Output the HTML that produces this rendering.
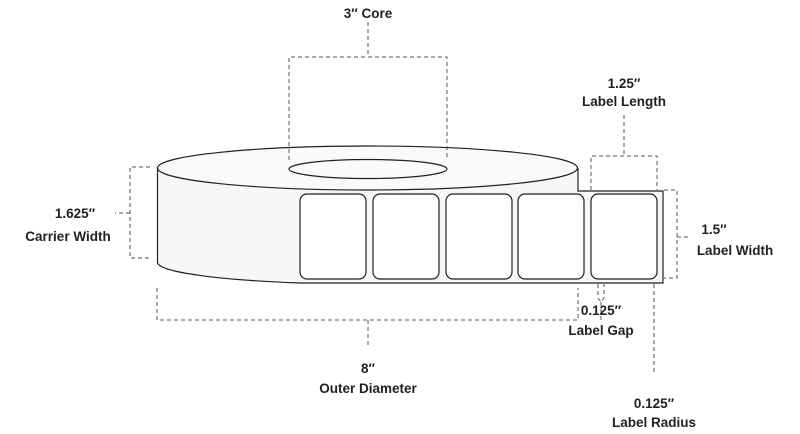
<!DOCTYPE html>
<html><head><style>
html,body{margin:0;padding:0;background:#fff;}
svg{display:block;}
text{font-family:"Liberation Sans",sans-serif;font-weight:bold;font-size:13.5px;fill:#231f20;}
</style></head><body>
<svg width="800" height="434" viewBox="0 0 800 434" xmlns="http://www.w3.org/2000/svg">
<g stroke="#231f20" stroke-width="1.2" fill="#fafafa">
<path d="M157.5 167V263A210 22 0 0 0 300 283H663V191H578V168" fill="#f7f7f7" stroke="none"/>
<path d="M157.5 167V263A210 22 0 0 0 300 283H663V191H578V168" fill="none"/>
<ellipse cx="367.5" cy="168" rx="210" ry="22"/>
<ellipse cx="368" cy="169" rx="79" ry="9.5"/>
<g fill="#fff">
<rect x="300" y="194" width="66" height="85" rx="7"/>
<rect x="373" y="194" width="66" height="85" rx="7"/>
<rect x="446" y="194" width="66" height="85" rx="7"/>
<rect x="518" y="194" width="66" height="85" rx="7"/>
<rect x="591" y="194" width="66" height="85" rx="7"/>
</g>
</g>
<g fill="none" stroke="#555" stroke-width="1" stroke-dasharray="4,3">
<path d="M368 22V57M289 160V57H447V160"/>
<path d="M150 167H130V258H150M130 213H115"/>
<path d="M157 288V320H578V288M368 320V346"/>
<path d="M624 115V156M591 190V156H657V190"/>
<path d="M664 190H677V278H664M677 237H691"/>
<path d="M598 284V298L601 302L604 298V284M601 302V322"/>
<path d="M654 284V372"/>
</g>
<g text-anchor="middle">
<text x="368" y="18">3″ Core</text>
<text x="624" y="88">1.25″</text>
<text x="624" y="106">Label Length</text>
<text x="368" y="373">8″</text>
<text x="368" y="393">Outer Diameter</text>
<text x="601" y="315">0.125″</text>
<text x="601" y="335">Label Gap</text>
<text x="654" y="408">0.125″</text>
<text x="654" y="427">Label Radius</text>
<text x="75" y="218">1.625″</text>
<text x="68" y="241">Carrier Width</text>
<text x="714" y="234">1.5″</text>
<text x="735" y="255">Label Width</text>
</g>
</svg>
</body></html>
